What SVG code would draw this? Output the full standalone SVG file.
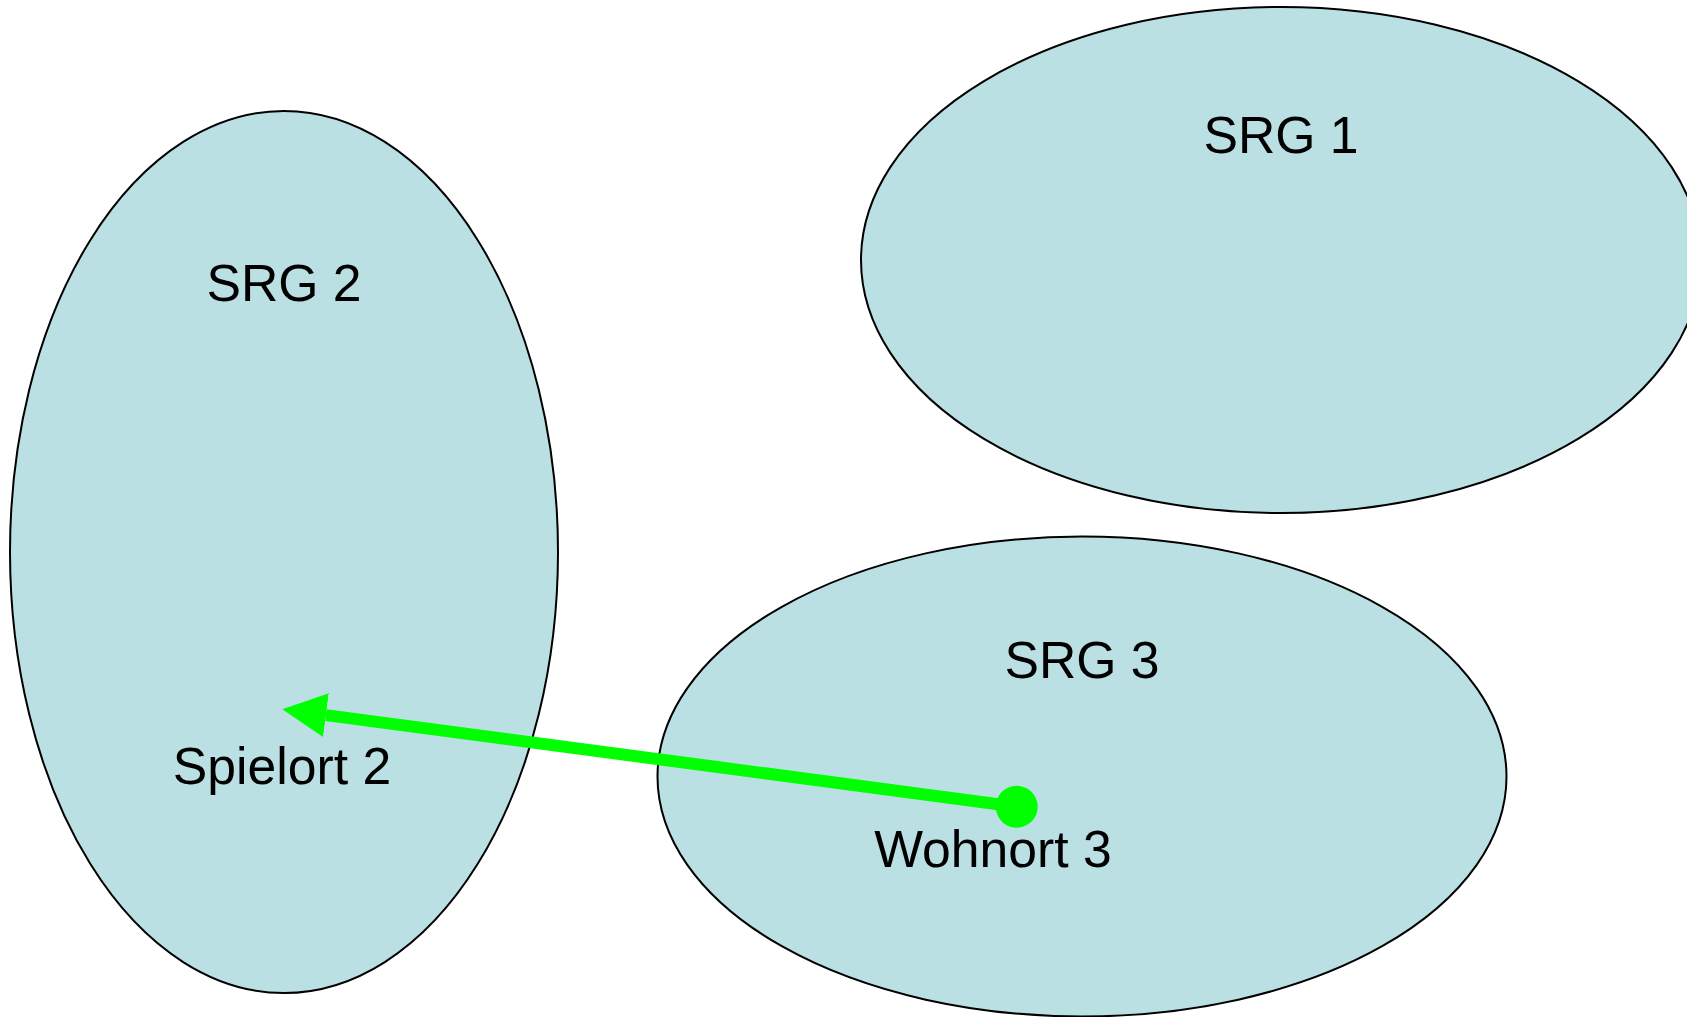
<svg xmlns="http://www.w3.org/2000/svg" width="1687" height="1017" viewBox="0 0 1687 1017">
<style>
.region{fill:#bae0e3;stroke:#000;stroke-width:2}
.lbl{font-family:"Liberation Sans",Arial,sans-serif;font-size:51.7px;fill:#000;text-anchor:middle}
.flow{stroke:#00ff00;stroke-width:12;fill:none}
</style>
<defs>
<marker id="head" markerUnits="userSpaceOnUse" viewBox="0 0 44 44" markerWidth="44" markerHeight="44" refX="0" refY="22" orient="auto">
<path d="M0,0 L44,22 L0,44 z" fill="#00ff00"/>
</marker>
<marker id="dot" markerUnits="userSpaceOnUse" viewBox="0 0 44 44" markerWidth="44" markerHeight="44" refX="22" refY="22" orient="auto">
<circle cx="22" cy="22" r="21" fill="#00ff00"/>
</marker>
</defs>
<g id="srg1"><ellipse class="region" cx="1281" cy="260" rx="420" ry="253"/><text class="lbl" x="1281" y="153">SRG 1</text></g>
<g id="srg2"><ellipse class="region" cx="284" cy="552" rx="274" ry="441"/><text class="lbl" x="284" y="301">SRG 2</text></g>
<g id="srg3"><ellipse class="region" cx="1082" cy="776.5" rx="424.5" ry="240"/><text class="lbl" x="1082" y="678">SRG 3</text></g>
<g id="spielort2"><text class="lbl" x="282" y="784">Spielort 2</text></g>
<g id="wohnort3"><text class="lbl" x="993" y="867">Wohnort 3</text></g>
<g id="connectors">
<path class="flow" d="M1016.7,806.7 L325.9,715.1" marker-start="url(#dot)" marker-end="url(#head)"/>
</g>
</svg>
